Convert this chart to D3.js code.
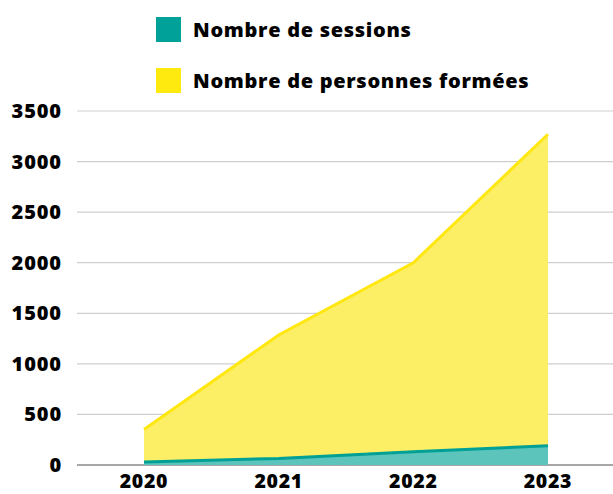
<!DOCTYPE html>
<html>
<head>
<meta charset="utf-8">
<script src="https://cdn.jsdelivr.net/npm/d3@7"></script>
<style>
  body { margin: 0; background: #fff; }
  text { font-family: "Open Sans", "Noto Sans", sans-serif; font-weight: 800; fill: #000; }
</style>
</head>
<body>
<svg id="viz" width="613" height="494"></svg>
<script>
// data
const years = [2020, 2021, 2022, 2023];
const personnes = [350, 1285, 2000, 3270];
const sessions = [30, 65, 130, 190];
const yTicks = [0, 500, 1000, 1500, 2000, 2500, 3000, 3500];
const seriesNames = ["Nombre de sessions", "Nombre de personnes formées"];

const svg = d3.select("#viz");
const margin = { top: 111, right: 0, bottom: 29, left: 77 };
const W = +svg.attr("width") - margin.left - margin.right;
const H = +svg.attr("height") - margin.top - margin.bottom;

const x = d3.scalePoint().domain(years).range([144, 548]);
const y = d3.scaleLinear().domain([0, 3500]).range([margin.top + H, margin.top]);

// gridlines
svg.append("g").selectAll("line")
  .data(yTicks)
  .join("line")
    .attr("x1", margin.left).attr("x2", margin.left + W)
    .attr("y1", d => y(d)).attr("y2", d => y(d))
    .attr("stroke", d => d === 0 ? "#a6a6a6" : "#cfcfcf")
    .attr("stroke-width", d => d === 0 ? 2 : 1.2);

// y labels
svg.append("g").selectAll("text")
  .data(yTicks)
  .join("text")
    .attr("x", 62).attr("y", d => y(d))
    .attr("dy", "0.35em")
    .attr("text-anchor", "end")
    .style("font-size", "20px")
    .style("letter-spacing", "0.9px")
    .text(d => d);

// x labels (kept just inside the bottom edge)
svg.append("g").selectAll("text")
  .data(years)
  .join("text")
    .attr("x", d => x(d)).attr("y", 488)
    .attr("text-anchor", "middle")
    .style("font-size", "19.5px")
    .style("letter-spacing", "0.7px")
    .text(d => d);

function drawSeries(vals, fill, stroke) {
  const pts = years.map((yr, i) => ({ yr, v: vals[i] }));
  const area = d3.area().x(d => x(d.yr)).y0(y(0)).y1(d => y(d.v));
  const line = d3.line().x(d => x(d.yr)).y(d => y(d.v));
  svg.append("path").datum(pts).attr("d", area).attr("fill", fill);
  svg.append("path").datum(pts).attr("d", line)
    .attr("fill", "none").attr("stroke", stroke).attr("stroke-width", 3);
}

drawSeries(personnes, "#fcef66", "#ffe70f");
drawSeries(sessions, "#5cc4bb", "#00a096");

// legend
const legendColors = ["#00a199", "#ffea0f"];
const lg = svg.append("g").selectAll("g")
  .data(seriesNames)
  .join("g")
    .attr("transform", (d, i) => `translate(156,${17 + i * 51})`);
lg.append("rect").attr("width", 25).attr("height", 25)
  .attr("fill", (d, i) => legendColors[i]);
lg.append("text").attr("x", 37).attr("y", 12.5).attr("dy", "0.35em")
  .style("font-size", "20px")
  .style("letter-spacing", "0.7px")
  .text(d => d);
</script>
</body>
</html>
